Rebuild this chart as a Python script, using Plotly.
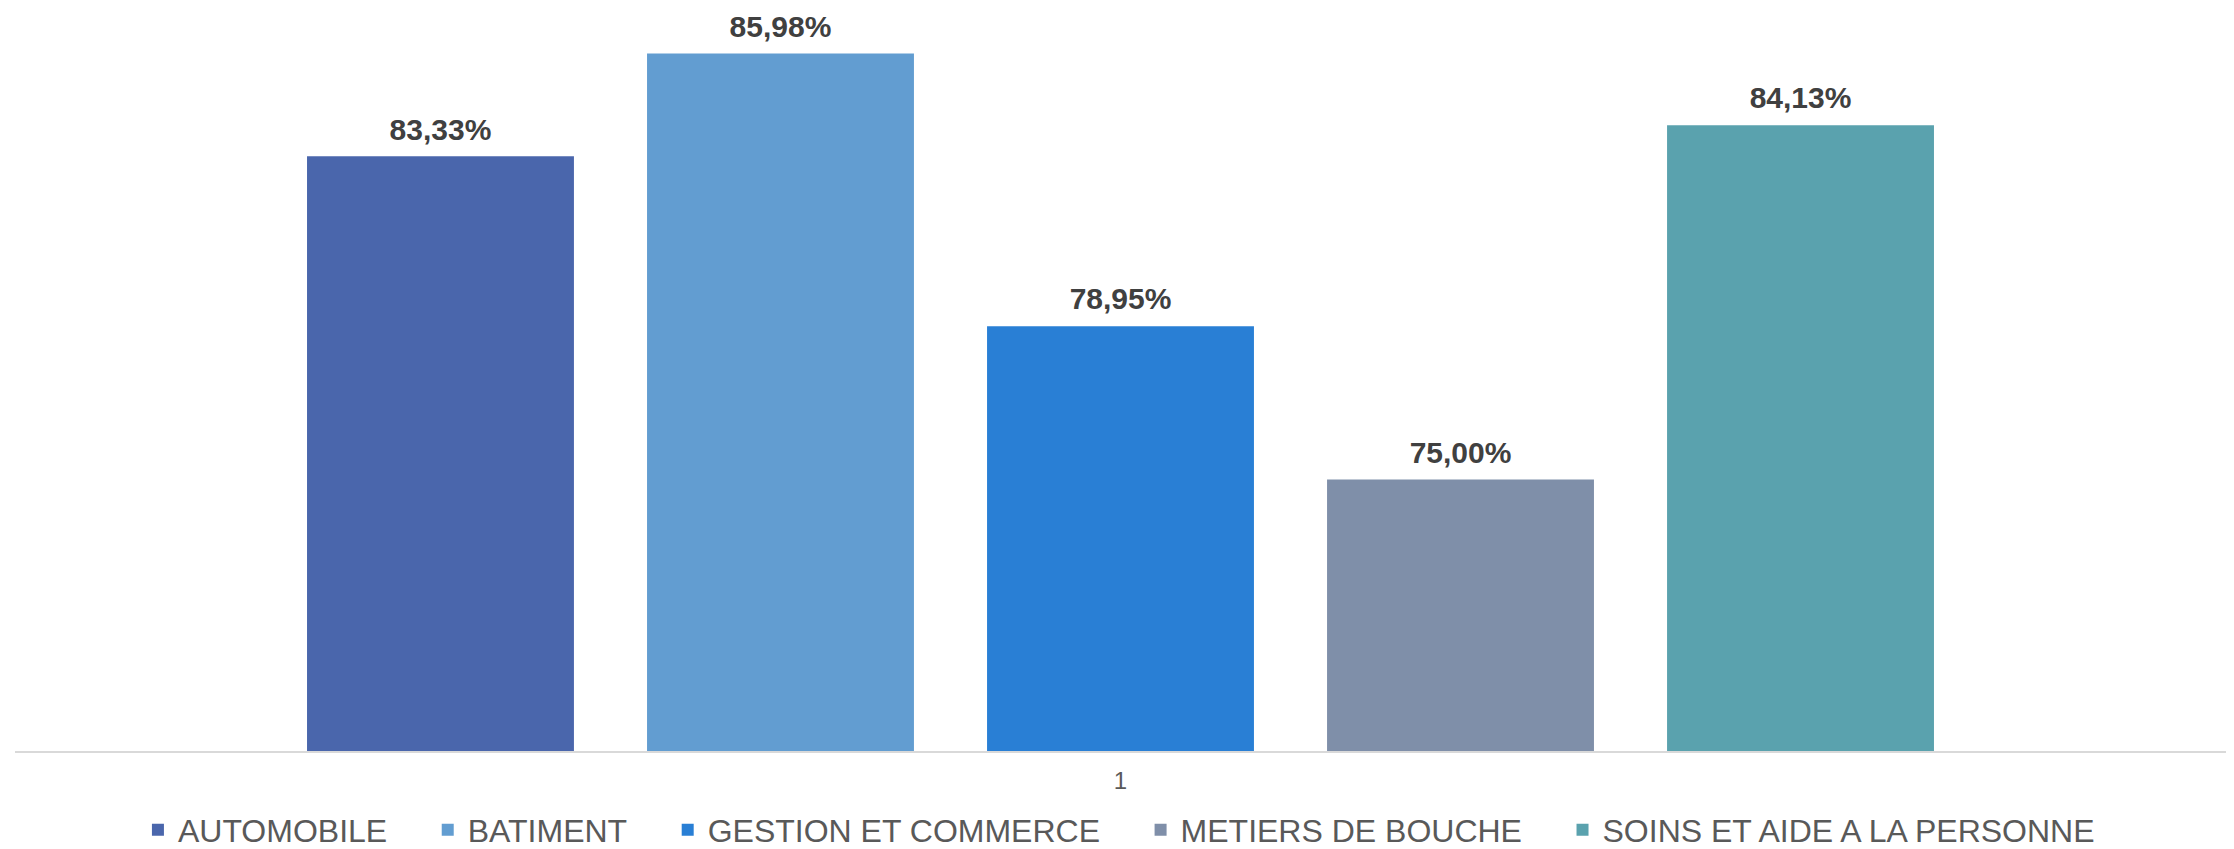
import plotly.graph_objects as go

categories = ["1"]
series_names = ["AUTOMOBILE", "BATIMENT", "GESTION ET COMMERCE", "METIERS DE BOUCHE", "SOINS ET AIDE A LA PERSONNE"]
series_values = [83.33, 85.98, 78.95, 75.00, 84.13]
series_labels = ["83,33%", "85,98%", "78,95%", "75,00%", "84,13%"]
colors = ["#4A66AC", "#629DD1", "#297FD5", "#7F8FA9", "#5AA2AE"]

NB = "\u00a0"
fig = go.Figure()
for i, (name, val, lab, col) in enumerate(zip(series_names, series_values, series_labels, colors)):
    legend_name = name + (NB * 4 if i < len(series_names) - 1 else "")
    fig.add_trace(go.Bar(
        x=categories, y=[val], name=legend_name,
        marker=dict(color=col, line=dict(width=0)),
        text=[f"<span style='font-size:30px'>{lab}</span><br>{NB}"],
        textposition="outside",
        textfont=dict(family="Liberation Sans", size=9, color="#404040", weight="bold"),
        cliponaxis=False,
        hovertemplate=f"{name}: {lab}<extra></extra>",
    ))

fig.update_layout(
    width=2218, height=841,
    margin=dict(l=7, r=0, t=0, b=98, autoexpand=False),
    paper_bgcolor="white", plot_bgcolor="white",
    barmode="group", bargap=0.2311, bargroupgap=0.215,
    font=dict(family="Liberation Sans", color="#595959"),
    showlegend=True,
    legend=dict(orientation="h", x=0.0556, xanchor="left", y=-0.1063, yanchor="middle",
                font=dict(size=32, color="#595959", family="Liberation Sans"),
                itemclick=False, borderwidth=0, bgcolor="rgba(0,0,0,0)"),
    xaxis=dict(showline=True, linecolor="#D9D9D9", linewidth=2, ticks="",
               tickfont=dict(size=24, color="#595959"), ticklabelstandoff=7,
               showgrid=False, zeroline=False),
    yaxis=dict(range=[68, 87.15], visible=False, showgrid=False, zeroline=False),
)

fig.write_html("out.html")
